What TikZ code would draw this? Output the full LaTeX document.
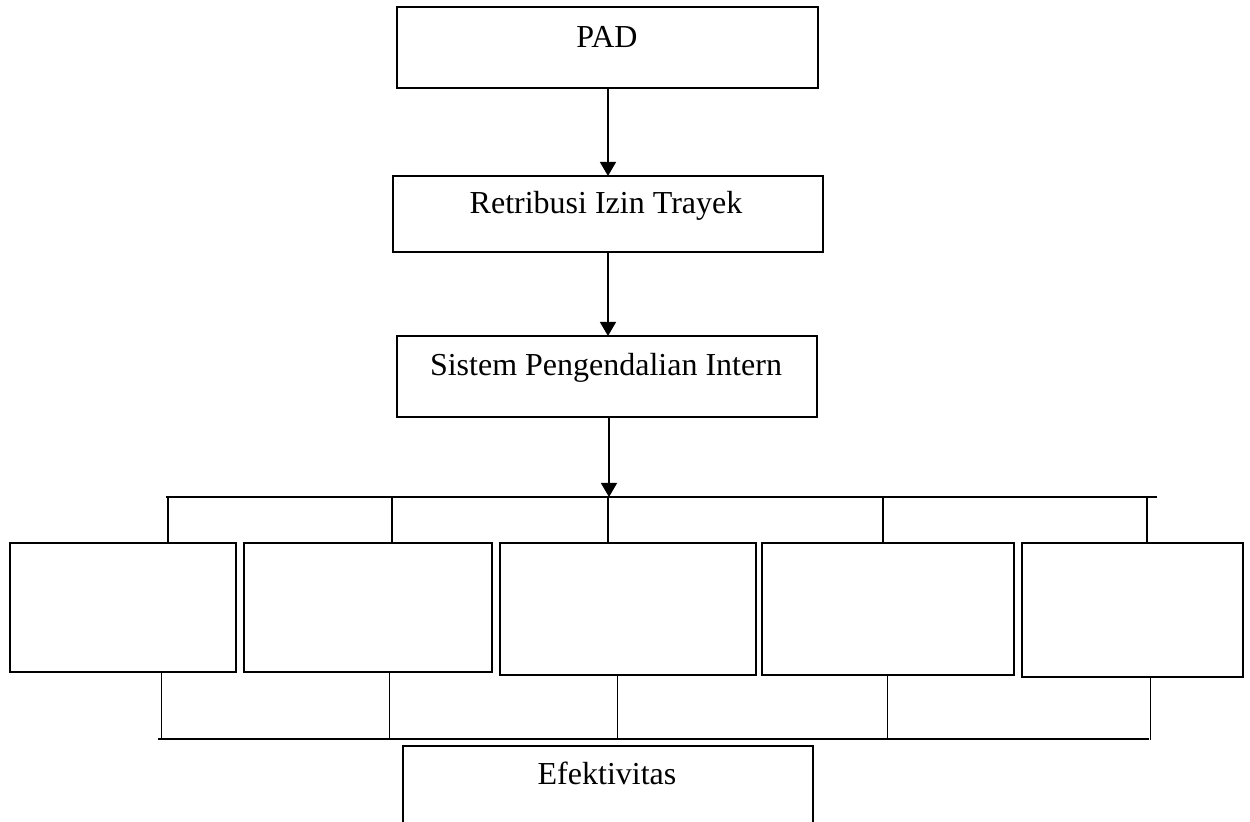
\documentclass[tikz,border=0pt]{standalone}
\usepackage{fontspec}
\setmainfont{Liberation Serif}
\usetikzlibrary{arrows.meta}
\tikzset{
  box/.style={draw=black, line width=0.7pt, rectangle, inner sep=0pt, outer sep=0pt, anchor=north west},
  subbox/.style={draw=black, line width=1.15pt, rectangle, inner sep=0pt, outer sep=0pt, anchor=north west},
  txt/.style={anchor=base, inner sep=0pt, font=\fontsize{16}{19}\selectfont},
  arr/.style={line width=0.65pt, -{Triangle[length=7pt,width=8pt]}},
  conn/.style={line width=0.65pt},
  thin/.style={line width=0.5pt}
}
\begin{document}
\begin{tikzpicture}[x=0.5pt,y=-0.5pt]
\useasboundingbox (0,0) rectangle (1250,822);
\clip (0,0) rectangle (1250,822);
% main boxes
\node[box, minimum width=210.5pt, minimum height=40.5pt] (pad) at (397,7) {};
\node[txt] (padt) at (607,48) {PAD};
\node[box, minimum width=215pt, minimum height=38pt] (ret) at (393,176) {};
\node[txt] (rett) at (606,214) {Retribusi Izin Trayek};
\node[box, minimum width=210pt, minimum height=40.5pt] (sis) at (397,336) {};
\node[txt] (sist) at (606,376) {Sistem Pengendalian Intern};
% sub boxes
\node[subbox, minimum width=113pt, minimum height=64.5pt] (b1) at (10,543) {};
\node[subbox, minimum width=124pt, minimum height=64.5pt] (b2) at (244,543) {};
\node[subbox, minimum width=128pt, minimum height=66pt] (b3) at (500,543) {};
\node[subbox, minimum width=126pt, minimum height=66pt] (b4) at (762,543) {};
\node[subbox, minimum width=110.5pt, minimum height=67pt] (b5) at (1022,543) {};
% result box
\node[box, minimum width=205pt, minimum height=50pt] (eff) at (403,746) {};
\node[txt] (efft) at (607,785) {Efektivitas};
% coordinates for buses
\coordinate (tl) at (166,497);
\coordinate (tr) at (1157,497);
\coordinate (tm) at (609,497);
\coordinate (bl) at (158,739);
\coordinate (br) at (1149,739);
% arrows
\draw[arr] (pad.south -| 608,0) -- (ret.north -| 608,0);
\draw[arr] (ret.south -| 608,0) -- (sis.north -| 608,0);
\draw[arr] (sis.south -| tm) -- (tm);
% top bus
\draw[conn] (tl) -- (tr);
\foreach \xx/\bb in {168/b1,392/b2,608/b3,883/b4,1147/b5}{
  \draw[conn] (\xx,497) -- (\bb.north -| \xx,0);
}
% bottom bus
\draw[conn] (bl) -- (br);
\foreach \xx/\bb in {161/b1,389/b2,617/b3,887/b4,1150/b5}{
  \draw[thin] (\bb.south -| \xx,0) -- (\xx,740);
}
\end{tikzpicture}
\end{document}
